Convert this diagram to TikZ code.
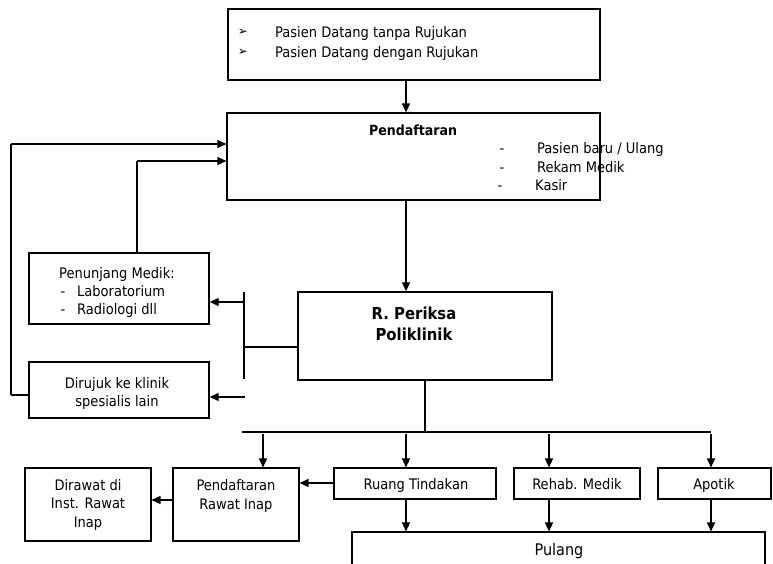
\documentclass[tikz,border=0pt]{standalone}
\usepackage{fontspec}
\setmainfont{DejaVu Sans Condensed}
\newfontfamily\symfont{DejaVu Sans}
\usetikzlibrary{arrows.meta,calc}
\begin{document}
\begin{tikzpicture}[x=1pt,y=-1pt,
  box/.style={draw,line width=1.1pt,inner sep=0pt,align=center},
  thick box/.style={draw,line width=1.4pt,inner sep=0pt,align=center},
  txt/.style={inner sep=0pt,text height=13.4pt,text depth=3pt,font=\fontsize{14.5}{17}\selectfont},
  conn/.style={line width=1.3pt},
  arr/.style={line width=1.3pt,-{Triangle[length=9pt,width=8pt]}}]
\useasboundingbox (0,0) rectangle (773,564);
% boxes
\node[box,minimum width=372pt,minimum height=71pt] (top) at (414,44.5) {};
\node[box,minimum width=373pt,minimum height=87pt] (pend) at (413.5,156.5) {};
\node[thick box,minimum width=180pt,minimum height=71pt] (penun) at (119,288.5) {};
\node[thick box,minimum width=180pt,minimum height=56pt] (diruj) at (119,390) {};
\node[thick box,minimum width=254pt,minimum height=88pt] (peri) at (425,336) {};
\node[box,minimum width=126pt,minimum height=73pt] (pri) at (236,504.5) {};
\node[box,minimum width=126pt,minimum height=73pt] (dira) at (88,504.5) {};
\node[box,minimum width=162pt,minimum height=31pt] (ruang) at (415,483.5) {};
\node[box,minimum width=126pt,minimum height=31pt] (rehab) at (577,483.5) {};
\node[box,minimum width=113pt,minimum height=31pt] (apotik) at (714.5,483.5) {};
\node[box,minimum width=413pt,minimum height=60pt] (pulang) at (558.5,562) {};
% texts
\node[inner sep=0pt,font=\symfont\fontsize{12}{14}\selectfont] (b1) at (243,32) {➢};
\node[inner sep=0pt,font=\symfont\fontsize{12}{14}\selectfont] (b2) at (243,52) {➢};
\node[txt,anchor=west] (t1) at (275,32) {Pasien Datang tanpa Rujukan};
\node[txt,anchor=west] (t2) at (275,52) {Pasien Datang dengan Rujukan};
\node[txt,font=\bfseries\fontsize{14}{17}\selectfont] (ptitle) at (413,130) {Pendaftaran};
\node[txt] (d1) at (502,148) {-};
\node[txt] (d2) at (502,167) {-};
\node[txt] (d3) at (500,185) {-};
\node[txt,anchor=west] (l1) at (537,148) {Pasien baru / Ulang};
\node[txt,anchor=west] (l2) at (537,167) {Rekam Medik};
\node[txt,anchor=west] (l3) at (535,185) {Kasir};
\node[txt] (pm) at (117,273) {Penunjang Medik:};
\node[txt] (pd1) at (63,291) {-};
\node[txt] (pd2) at (63,309) {-};
\node[txt,anchor=west] (pl1) at (77,291) {Laboratorium};
\node[txt,anchor=west] (pl2) at (77,309) {Radiologi dll};
\node[txt] (dt1) at (117,383) {Dirujuk ke klinik};
\node[txt] (dt2) at (117,401) {spesialis lain};
\node[txt,text height=15pt,font=\bfseries\fontsize{16.5}{19}\selectfont] (pt1) at (414,313) {R. Periksa};
\node[txt,text height=15pt,font=\bfseries\fontsize{16.5}{19}\selectfont] (pt2) at (414,334) {Poliklinik};
\node[txt] (prit1) at (236,485) {Pendaftaran};
\node[txt] (prit2) at (236,504) {Rawat Inap};
\node[txt] (dirt1) at (88,485) {Dirawat di};
\node[txt] (dirt2) at (88,503) {Inst. Rawat};
\node[txt] (dirt3) at (88,522) {Inap};
\node[txt] (ruangt) at (416,484) {Ruang Tindakan};
\node[txt] (rehabt) at (577,484) {Rehab. Medik};
\node[txt] (apotikt) at (714,484) {Apotik};
\node[txt,text height=14.5pt,font=\fontsize{16}{19}\selectfont] (pult) at (559,550) {Pulang};
% coordinates
\coordinate (lx1) at (11,144);
\coordinate (lx2) at (137,161);
\coordinate (lbot) at (11,395);
\coordinate (vtop) at (244,292);
\coordinate (vbot) at (244,379);
\coordinate (a1) at (245,302);
\coordinate (a2) at (245,397);
\coordinate (busL) at (242,432);
\coordinate (busR) at (711,432);
\coordinate (bus1) at (263,434);
\coordinate (bus2) at (406,434);
\coordinate (bus3) at (549,434);
\coordinate (bus4) at (711,434);
% connectors
\draw[arr] (top.south -| 406,0) -- (pend.north -| 406,0);
\draw[arr] (pend.south -| 406,0) -- (peri.north -| 406,0);
\draw[conn] (lbot) -- (lx1);
\draw[arr] (lx1) -- (lx1 -| pend.west);
\draw[conn] (lbot) -- (lbot -| diruj.west);
\draw[conn] (penun.north -| lx2) -- (lx2);
\draw[arr] (lx2) -- (lx2 -| pend.west);
\draw[conn] (vtop) -- (vbot);
\draw[conn] (244,347) -- (peri.west |- 0,347);
\draw[arr] (a1) -- (a1 -| penun.east);
\draw[arr] (a2) -- (a2 -| diruj.east);
\draw[conn] (peri.south) -- (peri.south |- busL);
\draw[conn] (busL) -- (busR);
\draw[arr] (bus1) -- (bus1 |- pri.north);
\draw[arr] (bus2) -- (bus2 |- ruang.north);
\draw[arr] (bus3) -- (bus3 |- rehab.north);
\draw[arr] (bus4) -- (bus4 |- apotik.north);
\draw[arr] (ruang.west |- 0,483) -- (pri.east |- 0,483);
\draw[arr] (pri.west |- 0,500) -- (dira.east |- 0,500);
\draw[arr] (bus2 |- ruang.south) -- (bus2 |- pulang.north);
\draw[arr] (bus3 |- rehab.south) -- (bus3 |- pulang.north);
\draw[arr] (bus4 |- apotik.south) -- (bus4 |- pulang.north);
\end{tikzpicture}
\end{document}
